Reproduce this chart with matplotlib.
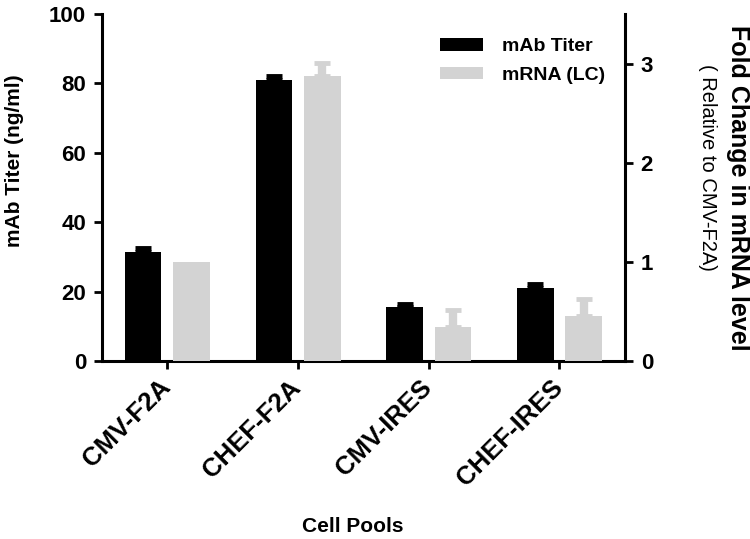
import matplotlib
matplotlib.use("Agg")
import matplotlib.pyplot as plt
import matplotlib.transforms as mtransforms
import numpy as np
from matplotlib.patches import Patch

categories = ["CMV-F2A", "CHEF-F2A", "CMV-IRES", "CHEF-IRES"]
mab_titer = [31.4, 81.0, 15.6, 21.2]
mab_err = [1.2, 1.1, 0.9, 1.0]
mrna_fold = [1.0, 2.87, 0.34, 0.46]
mrna_err = [0.0, 0.14, 0.18, 0.17]

plt.rcParams['font.family'] = ['Liberation Sans', 'DejaVu Sans']
plt.rcParams['font.weight'] = 'bold'

fig = plt.figure(figsize=(7.5, 5.39), dpi=100)
ax = fig.add_axes([0.136, 0.330, 0.697, 0.644])
ax2 = ax.twinx()

x = np.arange(len(categories))
w = 0.28
off = 0.185
black = "#000000"
grey = "#d3d3d3"

ax.bar(x - off, mab_titer, w, color=black, zorder=3)
ax2.bar(x + off, mrna_fold, w, color=grey, zorder=3)

me = np.array(mab_err)
re_ = np.array(mrna_err)
mt = np.array(mab_titer)
mf = np.array(mrna_fold)
k1 = me > 0
ax.errorbar((x - off)[k1], mt[k1], yerr=[np.zeros(k1.sum()), me[k1]], fmt='none',
            ecolor=black, elinewidth=5, capsize=6, capthick=3.5, zorder=2)
k2 = re_ > 0
ax2.errorbar((x + off)[k2], mf[k2], yerr=[np.zeros(k2.sum()), re_[k2]], fmt='none',
             ecolor=grey, elinewidth=6, capsize=6, capthick=3.5, zorder=2)

ax.set_xlim(-0.5, 3.5)
ax.set_ylim(0, 100)
ax2.set_ylim(0, 3.5)
ax.set_yticks([0, 20, 40, 60, 80, 100])
ax2.set_yticks([0, 1, 2, 3])
ax.set_xticks(x)
ax.set_xticklabels([])

shift = mtransforms.ScaledTranslation(-9 / 100, -14 / 100, fig.dpi_scale_trans)
for xi, name in zip(x, categories):
    ax.text(xi, 0, name, transform=ax.get_xaxis_transform() + shift,
            rotation=45, rotation_mode='anchor', ha='right', va='top',
            fontsize=18.5, fontweight='bold', clip_on=False)

for a in (ax, ax2):
    a.spines['top'].set_visible(False)
    for s in ['left', 'right', 'bottom']:
        a.spines[s].set_linewidth(2.2)
    a.tick_params(width=2, length=6)
    a.tick_params(axis='y', labelsize=16, pad=5.5)
ax.spines['right'].set_visible(False)
ax2.spines['left'].set_visible(False)
ax2.spines['bottom'].set_visible(False)

fig.text(0.02, 1 - 161 / 539, "mAb Titer (ng/ml)", rotation=90, ha='center', va='center',
         fontsize=15, fontweight='bold')
fig.text(353 / 750, 1 - 527 / 539, "Cell Pools", ha='center', va='center',
         fontsize=15, fontweight='bold')
fig.text(738 / 750, 1 - 188 / 539, "Fold Change in mRNA level", rotation=270,
         ha='center', va='center', fontsize=18, fontweight='bold')
fig.text(707 / 750, 1 - 167 / 539, "( Relative to CMV-F2A)", rotation=270,
         ha='center', va='center', fontsize=14.5, fontweight='normal')

handles = [Patch(facecolor=black, label="mAb Titer"), Patch(facecolor=grey, label="mRNA (LC)")]
fig.legend(handles=handles, loc='upper left', bbox_to_anchor=(440 / 750, 1 - 38 / 539),
           bbox_transform=fig.transFigure, frameon=False, borderpad=0, borderaxespad=0,
           handlelength=2.2, handleheight=0.62, handletextpad=1.0, labelspacing=0.6,
           prop={'weight': 'bold', 'size': 14})

fig.savefig("out.png", dpi=100)
